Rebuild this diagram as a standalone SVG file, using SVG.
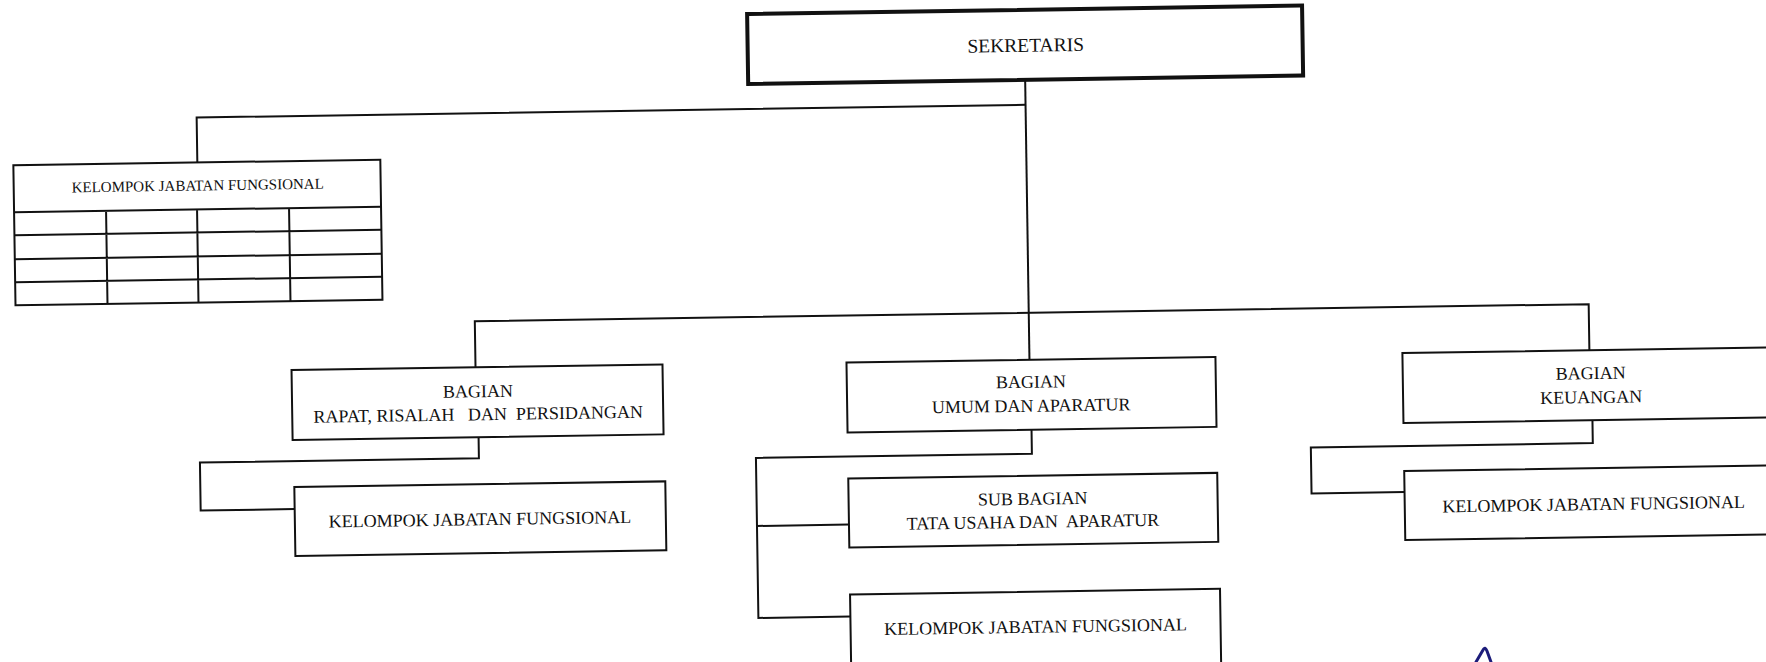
<svg xmlns="http://www.w3.org/2000/svg" width="1766" height="662" viewBox="0 0 1766 662">
<style>
.box{fill:#fff;stroke:#111;stroke-width:2}
.thick{stroke-width:4}
.ln{fill:none;stroke:#111;stroke-width:2}
.t{font-family:"Liberation Serif","Times New Roman",serif;font-size:18px;fill:#111;text-anchor:middle;white-space:pre}
</style>
<rect x="0" y="0" width="1766" height="662" fill="#fff"/>
<g transform="rotate(-0.88 883 331)">
<g id="connectors" class="ln">
<path d="M1029,82 V362"/>
<path d="M200,152 V107 H1029"/>
<path d="M475,361 V315 H1589 V361"/>
<path d="M477,431 V452 H198 V500 H292"/>
<path d="M1030,432 V456 H754 V616 H846"/>
<path d="M754,524 H846"/>
<path d="M1591,431 V454 H1309 V500 H1402"/>
</g>
<g id="sekretaris">
<rect class="box thick" x="752" y="12" width="555" height="70"/>
<text class="t" x="1030" y="54" style="font-size:19.5px">SEKRETARIS</text>
</g>
<g id="kjf-table">
<rect class="box" x="16" y="152" width="367" height="140"/>
<path class="ln" d="M16,199 H383 M16,222 H383 M16,246 H383 M16,269 H383 M108,199 V292 M199,199 V292 M291,199 V292"/>
<text class="t" x="200" y="180" style="font-size:15px">KELOMPOK JABATAN FUNGSIONAL</text>
</g>
<g id="bagian-rapat">
<rect class="box" x="291" y="361" width="371" height="70"/>
<text class="t" x="477" y="391">BAGIAN</text>
<text class="t" x="477" y="414">RAPAT, RISALAH   DAN  PERSIDANGAN</text>
</g>
<g id="kjf-rapat">
<rect class="box" x="292" y="478" width="371" height="69"/>
<text class="t" x="477" y="519">KELOMPOK JABATAN FUNGSIONAL</text>
</g>
<g id="bagian-umum">
<rect class="box" x="846" y="362" width="369" height="70"/>
<text class="t" x="1030" y="390">BAGIAN</text>
<text class="t" x="1030" y="414">UMUM DAN APARATUR</text>
</g>
<g id="sub-bagian-tu">
<rect class="box" x="846" y="478" width="369" height="69"/>
<text class="t" x="1030" y="507">SUB BAGIAN</text>
<text class="t" x="1030" y="530">TATA USAHA DAN  APARATUR</text>
</g>
<g id="kjf-umum">
<rect class="box" x="846" y="594" width="370" height="80"/>
<text class="t" x="1031" y="635">KELOMPOK JABATAN FUNGSIONAL</text>
</g>
<g id="bagian-keuangan">
<rect class="box" x="1402" y="361" width="378" height="70"/>
<text class="t" x="1590" y="390">BAGIAN</text>
<text class="t" x="1590" y="414">KEUANGAN</text>
</g>
<g id="kjf-keuangan">
<rect class="box" x="1402" y="479" width="378" height="69"/>
<text class="t" x="1591" y="521">KELOMPOK JABATAN FUNGSIONAL</text>
</g>
</g>
<path d="M1476,662 L1483,650 Q1485,646 1487,651 L1491,662" fill="none" stroke="#1c1c7a" stroke-width="3" stroke-linecap="round"/>
</svg>
